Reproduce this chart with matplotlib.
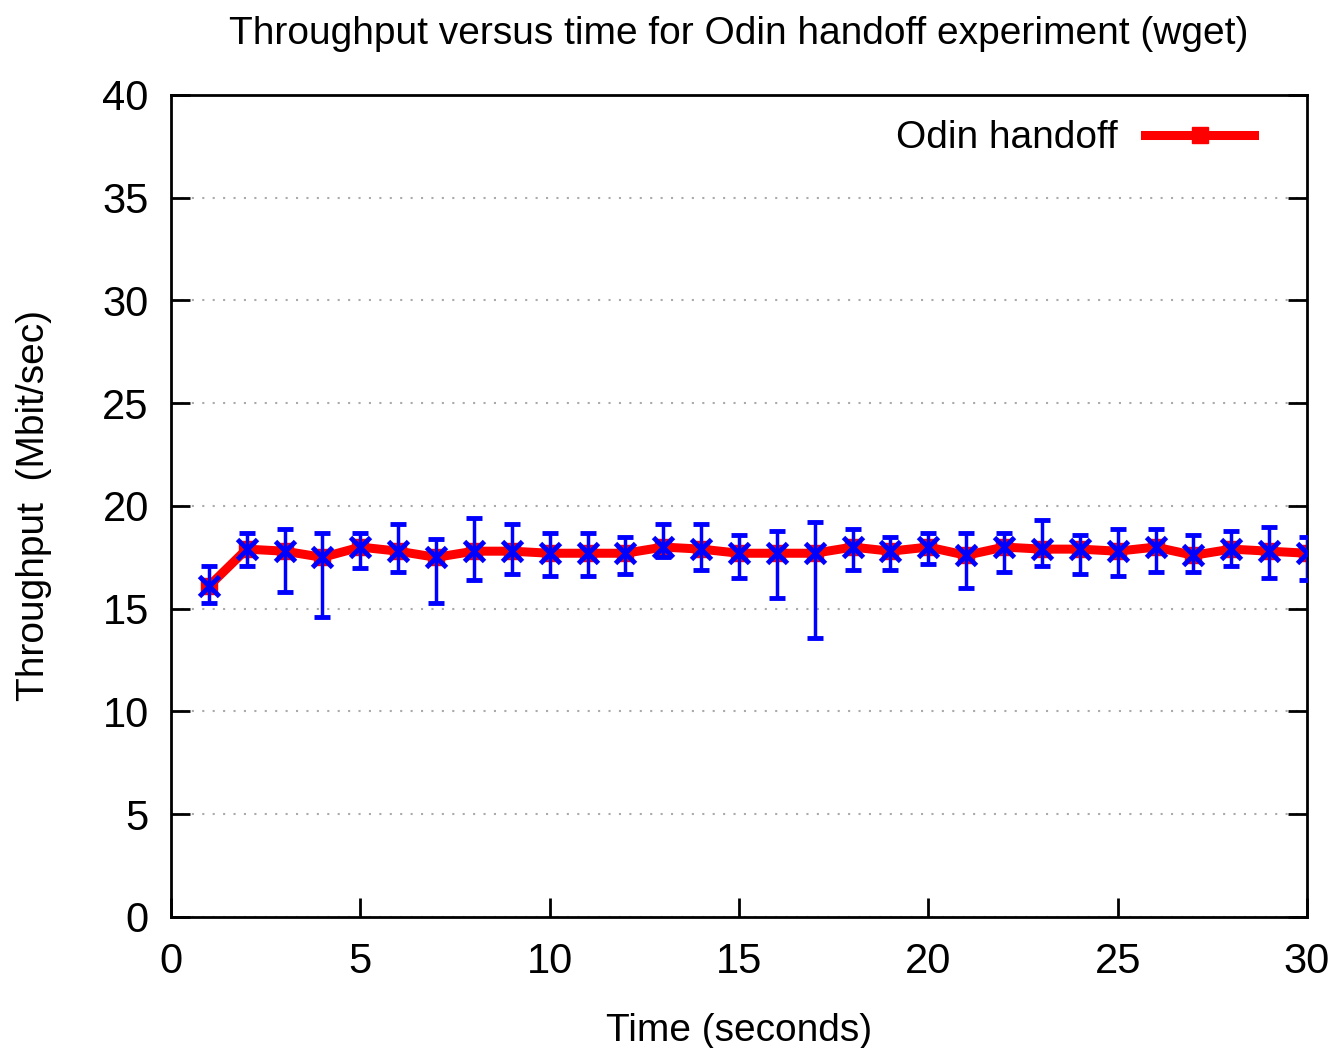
import matplotlib
matplotlib.use("Agg")
import matplotlib.pyplot as plt
import numpy as np

# Throughput samples (Mbit/sec)
times = list(range(1, 31))
throughput = [16.1, 17.9, 17.8, 17.5, 18.0, 17.8, 17.5, 17.8, 17.8, 17.7,
              17.7, 17.7, 18.0, 17.9, 17.7, 17.7, 17.7, 18.0, 17.8, 18.0,
              17.6, 18.0, 17.9, 17.9, 17.8, 18.0, 17.6, 17.9, 17.8, 17.7]
err_low = [15.3, 17.1, 15.8, 14.6, 17.0, 16.8, 15.3, 16.4, 16.7, 16.6,
           16.6, 16.7, 17.5, 16.9, 16.5, 15.5, 13.6, 16.9, 16.9, 17.2,
           16.0, 16.8, 17.1, 16.7, 16.6, 16.8, 16.8, 17.1, 16.5, 16.4]
err_high = [17.1, 18.7, 18.9, 18.7, 18.7, 19.1, 18.4, 19.4, 19.1, 18.7,
            18.7, 18.5, 19.1, 19.1, 18.6, 18.8, 19.2, 18.9, 18.5, 18.7,
            18.7, 18.7, 19.3, 18.6, 18.9, 18.9, 18.6, 18.8, 19.0, 18.5]

plt.rcParams['font.family'] = ['Liberation Sans', 'DejaVu Sans']

fig = plt.figure(figsize=(13.4, 10.48), dpi=100)
ax = fig.add_axes([0.1276, 0.125, 0.8478, 0.7844])

y = np.array(throughput)
yerr = [y - np.array(err_low), np.array(err_high) - y]

ax.plot(times, throughput, color='red', lw=6.5, marker='s', markersize=11,
        label='Odin handoff', zorder=2)
ax.errorbar(times, throughput, yerr=yerr, fmt='x', color='blue', ecolor='blue',
            elinewidth=2.5, capsize=6, capthick=3, markersize=14, mew=3.5,
            zorder=3)

ax.set_xlim(0, 30)
ax.set_ylim(0, 40)
ax.set_xticks(range(0, 31, 5))
ax.set_yticks(range(0, 41, 5))
ax.tick_params(direction='in', length=14, width=2, labelsize=30,
               right=True, top=False)
ax.tick_params(axis='x', pad=18)
ax.tick_params(axis='y', pad=16)
for s in ax.spines.values():
    s.set_linewidth(2)
ax.yaxis.grid(True, linestyle=(0, (1, 4)), color='#aaaaaa', lw=1.5)

ax.set_title("Throughput versus time for Odin handoff experiment (wget)",
             fontsize=28, pad=37)
ax.set_xlabel("Time (seconds)", fontsize=28, labelpad=22)
ax.set_ylabel("Throughput  (Mbit/sec)", fontsize=28, labelpad=36)

ax.legend(loc='upper right', bbox_to_anchor=(0.991, 1.021), frameon=False,
          fontsize=28, markerfirst=False, handlelength=2.8,
          handletextpad=0.7, borderaxespad=0.7)

fig.savefig("out.png", dpi=100)
